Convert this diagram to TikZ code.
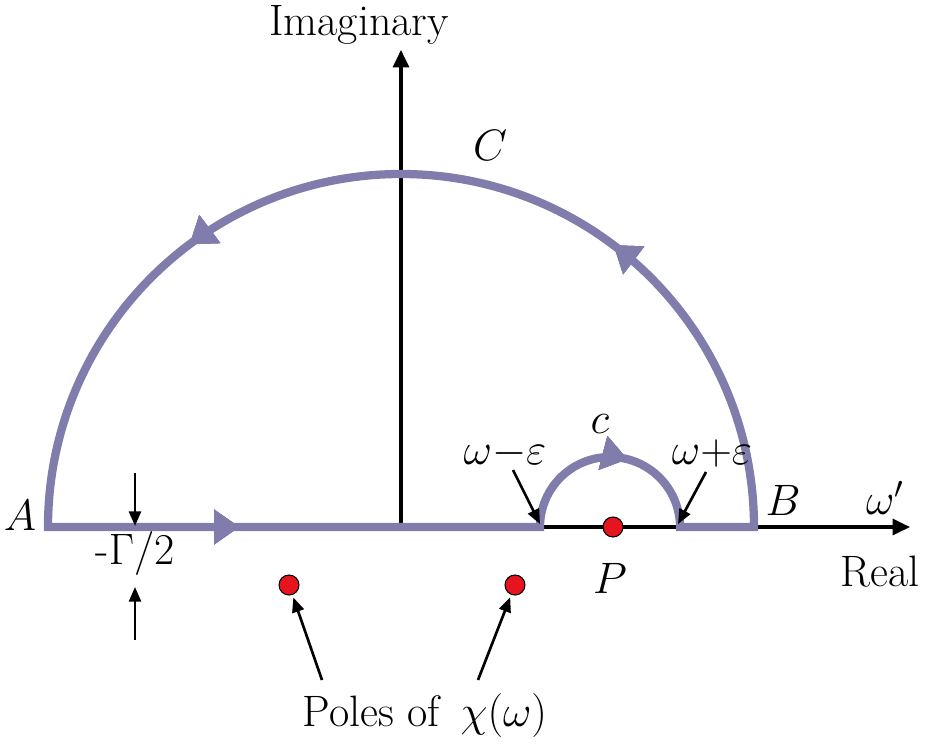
\documentclass[tikz,border=0pt]{standalone}
\usepackage{fix-cm}
\usetikzlibrary{arrows.meta,decorations.markings}
\definecolor{contour}{RGB}{128,124,172}
\definecolor{pole}{RGB}{230,20,30}
\tikzset{
  lbl/.style={font=\fontsize{33}{39}\selectfont,inner sep=0pt},
  axis/.style={line width=2.4pt,-{Triangle[length=13pt,width=12pt]}},
  pointer/.style={line width=2pt,-{Triangle[length=11pt,width=9pt]}},
  poledot/.style={circle,fill=pole,draw=black,line width=0.8pt,minimum size=15pt,inner sep=0pt},
  cmark/.style={decoration={markings,mark=at position #1 with {\arrow{Triangle[length=19pt,width=25pt]}}},postaction={decorate}}
}
\begin{document}
\begin{tikzpicture}[x=0.75pt,y=0.75pt]
  \useasboundingbox (-401,-217) rectangle (526,527);
  % axes
  \coordinate (O) at (0,0);
  \coordinate (reTip) at (509,0);
  \coordinate (imTip) at (0,477);
  \draw[axis] (O) -- (reTip);
  \draw[axis] (O) -- (imTip);
  % contour
  \draw[contour,line width=6.2pt,line join=miter,
        cmark=0.101,cmark=0.327,cmark=0.587,cmark=0.827]
    (-353,0) -- (139,0) arc[start angle=180,end angle=0,radius=70]
    -- (353,0) arc[start angle=0,end angle=180,radius=353] -- cycle;
  % poles
  \node[poledot] (P) at (212,0) {};
  \node[poledot] (p1) at (-112,-58) {};
  \node[poledot] (p2) at (114,-58) {};
  % labels
  \node[lbl] (imag) at (-42,502) {Imaginary};
  \node[lbl] (real) at (479,-45) {Real};
  \node[lbl] (wp) at (484,29) {$\omega'$};
  \node[lbl] (A) at (-381,12) {$A$};
  \node[lbl] (B) at (382,27) {$B$};
  \node[lbl] (C) at (89,382) {$C$};
  \node[lbl] (c) at (199,103) {$c$};
  \node[lbl] (Plbl) at (209,-51) {$P$};
  \node[lbl] (wm) at (104,74) {$\omega{-}\varepsilon$};
  \node[lbl] (wpl) at (311,74) {$\omega{+}\varepsilon$};
  \node[lbl] (gam) at (-266,-26) {-$\Gamma$/2};
  \node[lbl] (poles) at (24,-188) {Poles of \,$\chi(\omega)$};
  % pointers
  \coordinate (gTop) at (-266,54);
  \coordinate (gTopEnd) at (-266,1);
  \coordinate (gBot) at (-266,-113);
  \coordinate (gBotEnd) at (-266,-60);
  \draw[pointer] (gTop) -- (gTopEnd);
  \draw[pointer] (gBot) -- (gBotEnd);
  \coordinate (wmTail) at (112,57);
  \coordinate (wmHead) at (139,3);
  \coordinate (wpTail) at (305,55);
  \coordinate (wpHead) at (277,3);
  \draw[pointer] (wmTail) -- (wmHead);
  \draw[pointer] (wpTail) -- (wpHead);
  \coordinate (t1) at (-79,-153);
  \coordinate (t2) at (77,-153);
  \draw[pointer,shorten >=2pt] (t1) -- (p1);
  \draw[pointer,shorten >=2pt] (t2) -- (p2);
\end{tikzpicture}
\end{document}
